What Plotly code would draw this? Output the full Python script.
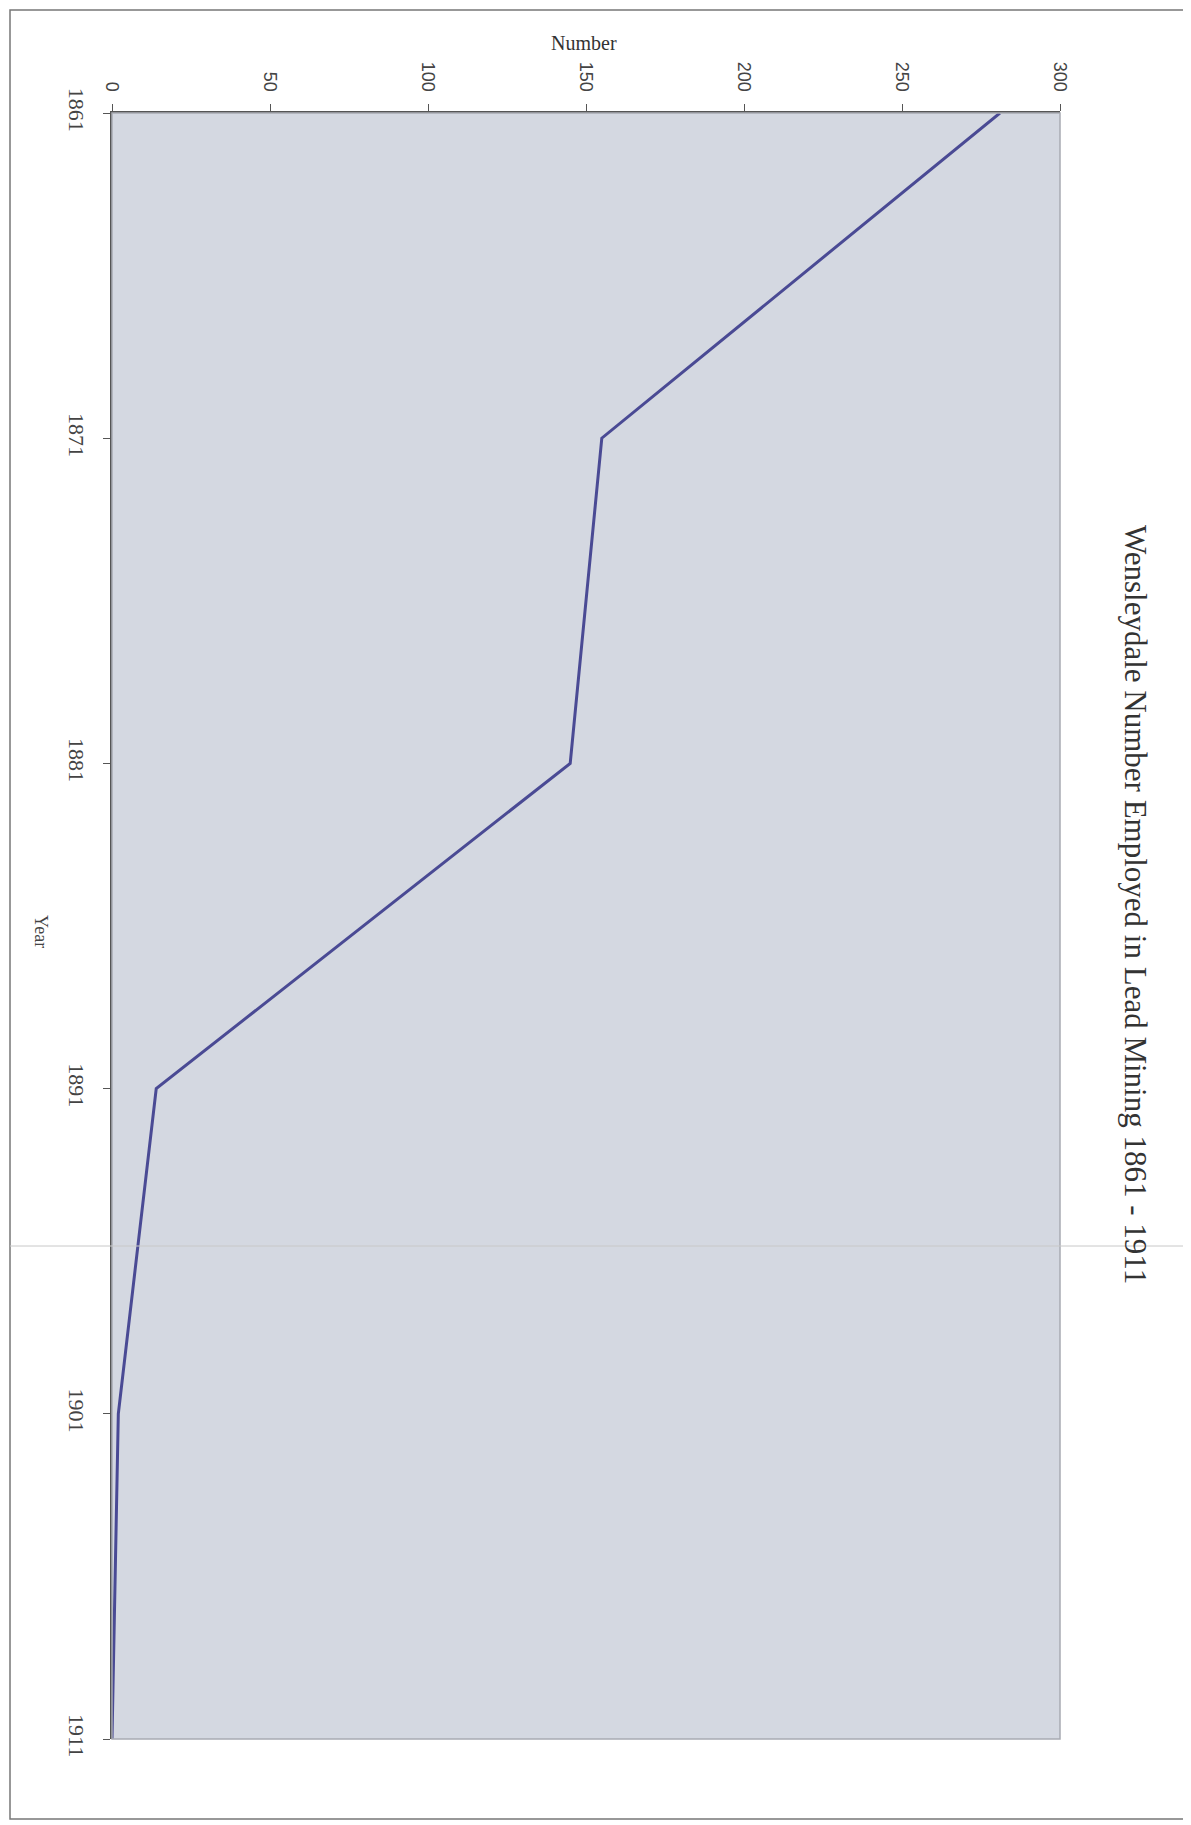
import plotly.graph_objects as go

years = [1861, 1871, 1881, 1891, 1901, 1911]
employed = [281, 155, 145, 14, 2, 0]
number_ticks = [0, 50, 100, 150, 200, 250, 300]

title_text = "Wensleydale Number Employed in Lead Mining 1861 - 1911"

OFF = 8  # page body margin
W, H = 1191 - OFF, 1825 - OFF
# plot-area edges in page pixels
L, R, T, B = 112, 1060, 113, 1739


def px(x):
    return (x - L) / (R - L)


def py(y):
    return (B - y) / (B - T)


fig = go.Figure()
fig.add_trace(go.Scatter(
    x=employed, y=years, mode="lines",
    line=dict(color="#4a4a94", width=3),
    showlegend=False, hoverinfo="skip",
))

fig.update_layout(
    width=W, height=H,
    margin=dict(l=L - OFF, r=W - (R - OFF), t=T - OFF, b=H - (B - OFF)),
    paper_bgcolor="white",
    plot_bgcolor="#d4d8e1",
    font=dict(family="Liberation Serif", color="#333333"),
    xaxis=dict(
        side="top", range=[0, 300], tickvals=number_ticks,
        ticks="outside", ticklen=7, tickcolor="#555555",
        tickangle=90, showgrid=False, zeroline=False,
        showline=True, linecolor="#555555", linewidth=2,
        tickfont=dict(family="Liberation Sans", size=18, color="#444444"),
        ticklabelstandoff=6,
    ),
    yaxis=dict(
        range=[1911, 1861], tickvals=years, ticktext=[str(y) for y in years],
        ticks="outside", ticklen=7, tickcolor="#555555",
        tickangle=90, showgrid=False, zeroline=False,
        showline=True, linecolor="#555555", linewidth=2,
        tickfont=dict(family="Liberation Serif", size=22, color="#444444"),
        ticklabelstandoff=8,
    ),
    annotations=[
        dict(text="Number", xref="paper", yref="paper", x=px(584), y=py(43),
             xanchor="center", yanchor="middle",
             showarrow=False, font=dict(family="Liberation Serif", size=20, color="#333333")),
        dict(text="Year", xref="paper", yref="paper", x=px(41), y=py(931),
             xanchor="center", yanchor="middle",
             showarrow=False, textangle=90,
             font=dict(family="Liberation Serif", size=18, color="#444444")),
        dict(text=title_text, xref="paper", yref="paper", x=px(1135), y=py(904),
             xanchor="center", yanchor="middle",
             showarrow=False, textangle=90,
             font=dict(family="Liberation Serif", size=31, color="#333333")),
    ],
    shapes=[
        dict(type="rect", xref="paper", yref="paper", x0=0, x1=1, y0=0, y1=1,
             line=dict(color="#a8aab2", width=1.5), layer="above"),
        dict(type="rect", xref="paper", yref="paper",
             x0=px(10), x1=px(1186), y0=py(1819), y1=py(10),
             line=dict(color="#777777", width=1.5)),
        dict(type="line", xref="paper", yref="paper",
             x0=px(10), x1=px(1186), y0=py(1246), y1=py(1246),
             line=dict(color="#c8c8c8", width=1)),
    ],
)

fig.write_html("out.html")
